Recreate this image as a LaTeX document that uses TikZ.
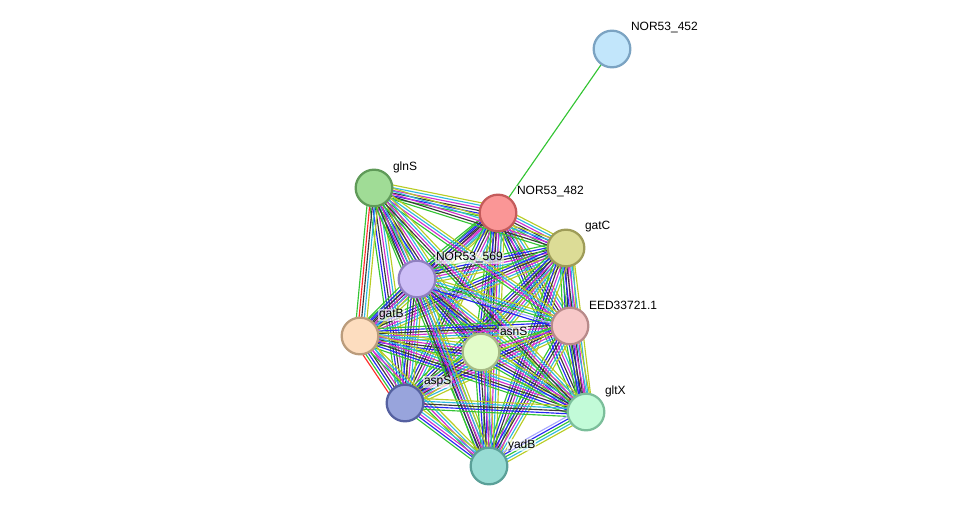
\documentclass[tikz,border=0pt]{standalone}
\usepackage{fontspec}
\setmainfont{Liberation Sans}
\usepackage{tikz}
\usetikzlibrary{calc, backgrounds}
\usepackage{xcolor}
% evidence channels
\definecolor{evNbh}{HTML}{33C433}
\definecolor{evFus}{HTML}{FF2A2A}
\definecolor{evCoo}{HTML}{2626F2}
\definecolor{evCex}{HTML}{383838}
\definecolor{evExp}{HTML}{D02ED0}
\definecolor{evDbs}{HTML}{30B8E0}
\definecolor{evTxt}{HTML}{B8CC24}
\definecolor{evHom}{HTML}{A8A8FF}
% protein fills / rims
\definecolor{fN452}{HTML}{C2E6FB} \definecolor{rN452}{HTML}{7BA3C2}
\definecolor{fN482}{HTML}{FA9696} \definecolor{rN482}{HTML}{C45B5B}
\definecolor{fGlnS}{HTML}{A0DC96} \definecolor{rGlnS}{HTML}{5F9A58}
\definecolor{fGatC}{HTML}{DCDC96} \definecolor{rGatC}{HTML}{9E9C58}
\definecolor{fN569}{HTML}{CDBEF7} \definecolor{rN569}{HTML}{9080C0}
\definecolor{fEed}{HTML}{F7C8C8}  \definecolor{rEed}{HTML}{B88A8A}
\definecolor{fGatB}{HTML}{FDDDBF} \definecolor{rGatB}{HTML}{BB9C7C}
\definecolor{fAsnS}{HTML}{E2FCC9} \definecolor{rAsnS}{HTML}{A6BA84}
\definecolor{fAspS}{HTML}{98A4DC} \definecolor{rAspS}{HTML}{5560A0}
\definecolor{fGltX}{HTML}{C2FBD8} \definecolor{rGltX}{HTML}{7BBE9A}
\definecolor{fYadB}{HTML}{98DCD4} \definecolor{rYadB}{HTML}{5AA098}
\newcommand{\evall}{evNbh,evCoo,evCex,evExp,evDbs,evTxt}
% one bundle of parallel lines between two proteins
\newcommand{\evlink}[3]{%
  \edef\evlist{#3}%
  \foreach \ch [count=\k] in \evlist {\xdef\nch{\k}}%
  \foreach \ch [count=\k] in \evlist {%
    \pgfmathsetmacro{\off}{(\k-(\nch+1)/2)*2.0}%
    \draw[evline, \ch] ($(#1.center)!\off pt!90:(#2.center)$) -- ($(#2.center)!\off pt!-90:(#1.center)$);
  }}
\tikzset{
  prot/.style 2 args={draw=#2, fill=#1, circle, minimum size=27.5pt, inner sep=0pt, line width=1.7pt},
  plbl/.style ={font=\fontsize{9}{10}\selectfont, anchor=west, inner sep=0.6pt,
                fill=white, fill opacity=0.65, text opacity=1},
  evline/.style={line width=0.85pt},
}

\begin{document}
\begin{tikzpicture}[x=0.75pt, y=-0.75pt]
  \useasboundingbox (0,0) rectangle (976,513);

  % proteins
  \node[prot={fN452}{rN452}] (n452) at (612,49)  {};
  \node[prot={fN482}{rN482}] (n482) at (498,213) {};
  \node[prot={fGlnS}{rGlnS}] (glnS) at (374,188) {};
  \node[prot={fGatC}{rGatC}] (gatC) at (566,248) {};
  \node[prot={fN569}{rN569}] (n569) at (417,279) {};
  \node[prot={fEed}{rEed}]   (eed)  at (570,326) {};
  \node[prot={fGatB}{rGatB}] (gatB) at (360,336) {};
  \node[prot={fAsnS}{rAsnS}] (asnS) at (481,352) {};
  \node[prot={fAspS}{rAspS}] (aspS) at (405,403) {};
  \node[prot={fGltX}{rGltX}] (gltX) at (586,412) {};
  \node[prot={fYadB}{rYadB}] (yadB) at (489,466) {};

  \begin{pgfonlayer}{background}
    \evlink{n452}{n482}{evNbh}
    % full bundles
    \foreach \a/\b in {glnS/n482, glnS/n569, glnS/aspS, glnS/asnS,
                       n482/gatC, n482/n569, n482/eed, n482/gatB, n482/asnS, n482/aspS, n482/gltX, n482/yadB,
                       gatC/n569, gatC/eed, gatC/gatB, gatC/asnS, gatC/aspS, gatC/gltX, gatC/yadB,
                       n569/gatB, n569/asnS, n569/aspS, n569/gltX, n569/yadB,
                       eed/gatB, eed/aspS, eed/gltX, eed/yadB,
                       gatB/asnS, gatB/gltX, asnS/aspS, asnS/gltX, asnS/yadB}
      {\evlink{\a}{\b}{\evall}}
    % partial bundles
    \evlink{glnS}{gatC}{evNbh,evCex,evExp,evDbs,evTxt}
    \evlink{glnS}{gatB}{evNbh,evFus,evCex,evDbs,evTxt}
    \evlink{glnS}{yadB}{evNbh,evCex,evExp,evDbs,evTxt}
    \evlink{glnS}{eed}{evNbh,evExp,evDbs,evTxt}
    \evlink{glnS}{gltX}{evNbh,evCex,evExp,evDbs,evTxt}
    \evlink{n569}{eed}{evCoo,evHom,evNbh,evDbs,evTxt}
    \evlink{eed}{asnS}{evNbh,evExp,evTxt}
    \evlink{gatB}{aspS}{evFus,evNbh,evCoo,evCex,evExp,evDbs,evTxt}
    \evlink{gatB}{yadB}{evNbh,evExp,evDbs,evTxt}
    \evlink{aspS}{gltX}{evNbh,evCoo,evCex,evDbs,evTxt}
    \evlink{aspS}{yadB}{evNbh,evCoo,evExp,evDbs,evTxt}
    \evlink{gltX}{yadB}{evHom,evCoo,evNbh,evDbs,evTxt}
  \end{pgfonlayer}

  % labels
  \node[plbl] (l452) at ($(n452)+(18,-21)$) {NOR53\_452};
  \node[plbl] (l482) at ($(n482)+(18,-21)$) {NOR53\_482};
  \node[plbl] (lgln) at ($(glnS)+(18,-21)$) {glnS};
  \node[plbl] (lgtc) at ($(gatC)+(18,-21)$) {gatC};
  \node[plbl] (l569) at ($(n569)+(18,-21)$) {NOR53\_569};
  \node[plbl] (leed) at ($(eed)+(18,-21)$)  {EED33721.1};
  \node[plbl] (lgtb) at ($(gatB)+(18,-21)$) {gatB};
  \node[plbl] (lasn) at ($(asnS)+(18,-21)$) {asnS};
  \node[plbl] (lasp) at ($(aspS)+(18,-21)$) {aspS};
  \node[plbl] (lglt) at ($(gltX)+(18,-21)$) {gltX};
  \node[plbl] (lyad) at ($(yadB)+(18,-21)$) {yadB};
\end{tikzpicture}
\end{document}
